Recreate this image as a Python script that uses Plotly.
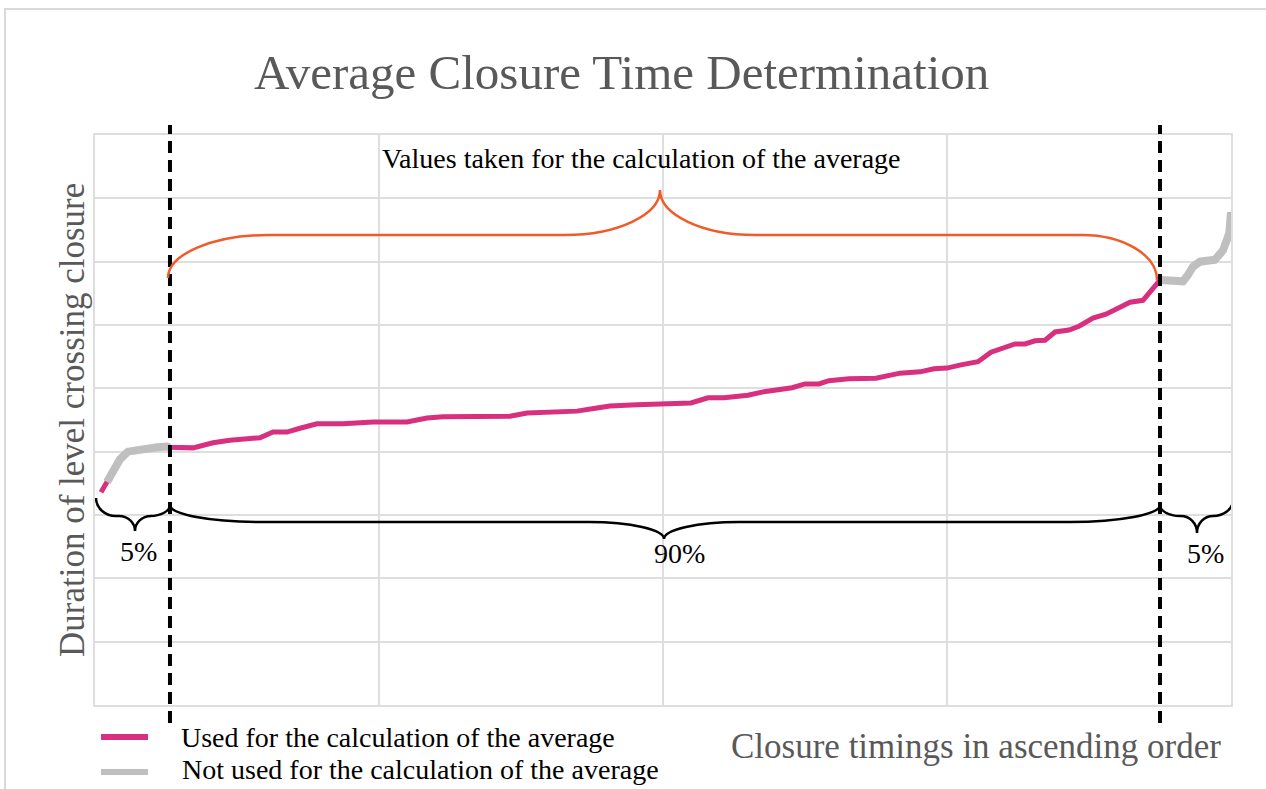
import plotly.graph_objects as go

# ---------------- data ----------------
# position of each closure in the sorted list (0-100 scale) and its duration (grid units)
rank = [0.53, 1.06, 1.58, 2.20, 2.90, 3.79, 4.58, 5.46, 6.34, 6.60,
        8.63, 10.39, 11.88, 14.52, 15.67, 16.90, 18.05, 19.54, 21.83, 24.47,
        27.46, 29.23, 30.63, 32.75, 33.89, 36.53, 38.03, 40.93, 42.43, 44.19,
        45.33, 47.71, 48.86, 50.62, 52.46, 53.96, 55.37, 57.48, 58.71, 61.36,
        62.50, 63.73, 64.61, 66.37, 68.75, 70.86, 72.62, 73.86, 75.00, 76.23,
        77.73, 78.87, 80.11, 80.99, 81.87, 82.75, 83.63, 84.51, 85.74, 86.62,
        87.85, 88.99, 90.23, 91.11, 92.25, 93.13, 93.75, 95.77, 96.21, 96.65,
        97.27, 98.59, 99.30, 99.85, 100.0]
duration = [3.36, 3.52, 3.68, 3.88, 4.00, 4.03, 4.06, 4.07, 4.08, 4.07,
            4.06, 4.14, 4.18, 4.22, 4.31, 4.31, 4.37, 4.44, 4.44, 4.47,
            4.47, 4.53, 4.55, 4.55, 4.56, 4.56, 4.61, 4.63, 4.64, 4.69,
            4.72, 4.74, 4.75, 4.77, 4.77, 4.85, 4.85, 4.89, 4.94, 5.01,
            5.07, 5.07, 5.12, 5.15, 5.16, 5.24, 5.26, 5.31, 5.32, 5.37,
            5.42, 5.57, 5.64, 5.70, 5.70, 5.75, 5.76, 5.89, 5.92, 5.98,
            6.11, 6.17, 6.28, 6.36, 6.39, 6.58, 6.71, 6.69, 6.79, 6.92,
            7.00, 7.03, 7.18, 7.45, 7.78]
low_cut = 6.60     # 5 % boundary
high_cut = 93.75   # 95 % boundary
x_ticks = [0, 25, 50, 75, 100]
y_ticks = [0, 1, 2, 3, 4, 5, 6, 7, 8, 9]

title_text = "Average Closure Time Determination"
x_title = "Closure timings in ascending order"
y_title = "Duration of level crossing closure"
top_label = "Values taken for the calculation of the average"
pct_labels = ["5%", "90%", "5%"]
legend_labels = ["Used for the calculation of the average",
                 "Not used for the calculation of the average"]

MAGENTA = "#D8307F"
GRAY = "#BFBFBF"
ORANGE = "#F15A29"
TXT = "#595959"
GRID = "#DEDEDE"
SERIF = "Liberation Serif, Times New Roman, serif"

# ---------------- geometry helpers (pixel -> axes/paper) ----------------
W, H = 1266, 789
L, R, T, B = 95, 1231, 135, 705


def dx(px):
    return (px - L) / (R - L) * 100.0


def dy(py):
    return (B - py) / (B - T) * 9.0


def pxp(px):
    return (px - L) / (R - L)


def pyp(py):
    return (B - py) / (B - T)


def brace(xa, ya, xb, yb, yf, xm, yt, w1a, w2, w1b):
    """curly brace path in pixel space, converted to data coords"""
    k = 0.552
    def P(x, y):
        return f"{dx(x):.4f},{dy(y):.4f}"
    s = f"M {P(xa, ya)} "
    s += f"C {P(xa, ya + k*(yf-ya))} {P(xa + w1a*(1-k), yf)} {P(xa + w1a, yf)} "
    s += f"L {P(xm - w2, yf)} "
    s += f"C {P(xm - w2*(1-k), yf)} {P(xm, yt - k*(yt-yf))} {P(xm, yt)} "
    s += f"C {P(xm, yt - k*(yt-yf))} {P(xm + w2*(1-k), yf)} {P(xm + w2, yf)} "
    s += f"L {P(xb - w1b, yf)} "
    s += f"C {P(xb - w1b*(1-k), yf)} {P(xb, yb + k*(yf-yb))} {P(xb, yb)}"
    return s


# ---------------- traces ----------------
fig = go.Figure()
fig.add_trace(go.Scatter(x=rank, y=duration, mode="lines",
                         line=dict(color=MAGENTA, width=5), showlegend=False,
                         hoverinfo="skip", cliponaxis=False))
gx, gy = [], []
for i, (r, d) in enumerate(zip(rank, duration)):
    if i >= 1 and r <= low_cut:
        gx.append(r); gy.append(d)
gx.append(None); gy.append(None)
for r, d in zip(rank, duration):
    if r >= high_cut:
        gx.append(r); gy.append(d)
fig.add_trace(go.Scatter(x=gx, y=gy, mode="lines",
                         line=dict(color=GRAY, width=8), showlegend=False,
                         hoverinfo="skip", cliponaxis=False))

shapes = []
# outer frame
shapes.append(dict(type="rect", xref="paper", yref="paper",
                   x0=pxp(5), x1=pxp(1300), y0=pyp(900), y1=pyp(9),
                   line=dict(color="#D9D9D9", width=2), layer="below"))
# dashed cut lines
for cut in (low_cut, high_cut):
    shapes.append(dict(type="line", xref="x", yref="paper", x0=cut, x1=cut,
                       y0=pyp(723), y1=pyp(125),
                       line=dict(color="black", width=4, dash="12px,7px")))
# orange brace (top)
shapes.append(dict(type="path", xref="x", yref="y",
                   path=brace(168, 278, 1157, 280, 235, 660, 190, 100, 95, 75),
                   line=dict(color=ORANGE, width=2.5)))
# black braces (bottom)
shapes.append(dict(type="path", xref="x", yref="y",
                   path=brace(170, 505, 1160, 505, 522, 664, 539, 90, 75, 90),
                   line=dict(color="black", width=2.5)))
shapes.append(dict(type="path", xref="x", yref="y",
                   path=brace(96, 498, 170, 505, 516, 135, 531, 20, 16, 20),
                   line=dict(color="black", width=2.5)))
shapes.append(dict(type="path", xref="x", yref="y",
                   path=brace(1160, 505, 1233, 500, 516, 1197, 533, 20, 16, 20),
                   line=dict(color="black", width=2.5)))
# legend samples
shapes.append(dict(type="line", xref="paper", yref="paper",
                   x0=pxp(101), x1=pxp(148), y0=pyp(737), y1=pyp(737),
                   line=dict(color=MAGENTA, width=6)))
shapes.append(dict(type="line", xref="paper", yref="paper",
                   x0=pxp(101), x1=pxp(148), y0=pyp(772), y1=pyp(772),
                   line=dict(color=GRAY, width=6)))

annotations = []


def text(s, px, py, size, color="black", xanchor="center", angle=0):
    annotations.append(dict(text=s, xref="paper", yref="paper",
                            x=pxp(px), y=pyp(py), xanchor=xanchor,
                            yanchor="middle", showarrow=False, textangle=angle,
                            font=dict(family=SERIF, size=size, color=color)))


text(title_text, 621, 72, 49, TXT)
text(top_label, 641, 158, 28)
text(pct_labels[0], 138, 551, 28)
text(pct_labels[1], 679, 553, 28)
text(pct_labels[2], 1205, 553, 28)
text(legend_labels[0], 179, 737, 28, xanchor="left")
text(legend_labels[1], 180, 769, 28, xanchor="left")
text(x_title, 976, 746, 35, TXT)
text(y_title, 72, 420, 35, TXT, angle=-90)

fig.update_layout(
    width=W, height=H,
    margin=dict(l=L, r=W - R, t=T, b=H - B, pad=0),
    paper_bgcolor="white", plot_bgcolor="white",
    shapes=shapes, annotations=annotations,
    xaxis=dict(range=[0, 100], tickvals=x_ticks, showticklabels=False,
               showgrid=True, gridcolor=GRID, gridwidth=2, zeroline=False,
               showline=True, linecolor=GRID, linewidth=2, mirror=True,
               ticks=""),
    yaxis=dict(range=[0, 9], tickvals=y_ticks, showticklabels=False,
               showgrid=True, gridcolor=GRID, gridwidth=2, zeroline=False,
               showline=True, linecolor=GRID, linewidth=2, mirror=True,
               ticks=""),
)

fig.write_html("out.html", config={"displayModeBar": False},
               post_script="document.body.style.margin='0';")
